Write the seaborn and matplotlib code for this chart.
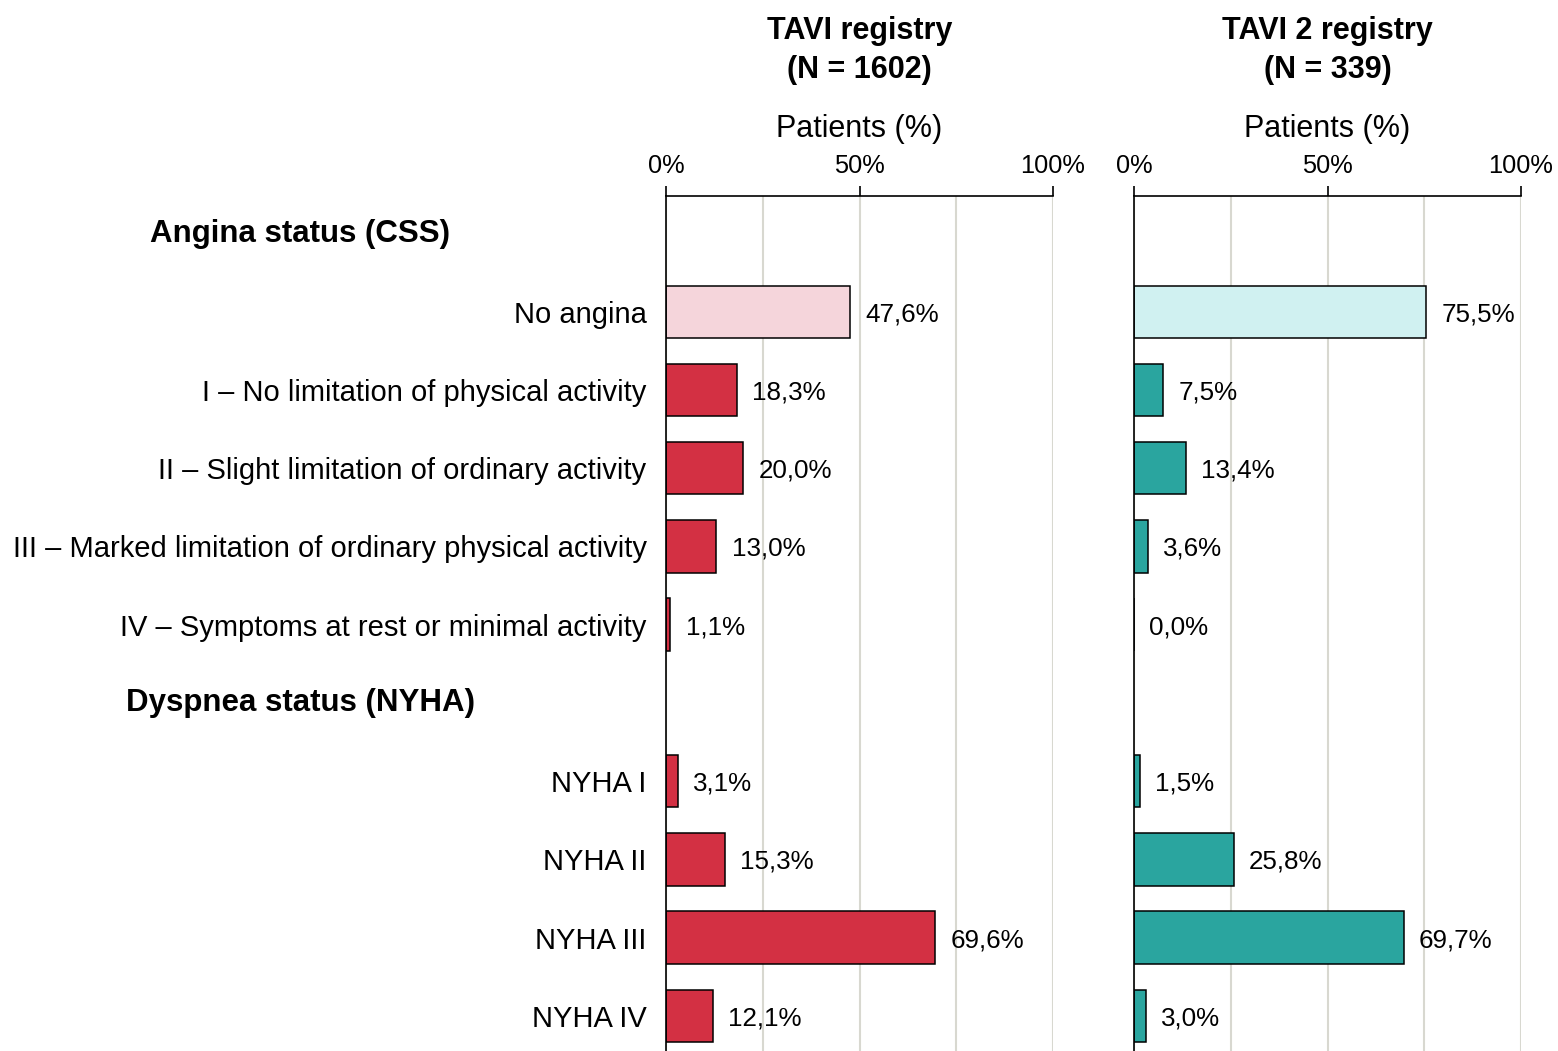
import pandas as pd
import seaborn as sns
import matplotlib.pyplot as plt
import matplotlib.transforms as mtransforms

# rows from top to bottom; the two section headers carry no bar
rows = [
    "Angina status (CSS)",
    "No angina",
    "I – No limitation of physical activity",
    "II – Slight limitation of ordinary activity",
    "III – Marked limitation of ordinary physical activity",
    "IV – Symptoms at rest or minimal activity",
    "Dyspnea status (NYHA)",
    "NYHA I",
    "NYHA II",
    "NYHA III",
    "NYHA IV",
]
headers = ["Angina status (CSS)", "Dyspnea status (NYHA)"]
bar_rows = [r for r in rows if r not in headers]

tavi1 = [47.6, 18.3, 20.0, 13.0, 1.1, 3.1, 15.3, 69.6, 12.1]
tavi2 = [75.5, 7.5, 13.4, 3.6, 0.0, 1.5, 25.8, 69.7, 3.0]
panel_titles = ["TAVI registry\n(N = 1602)", "TAVI 2 registry\n(N = 339)"]

red, pink = "#D33043", "#F5D5DB"
teal, light_teal = "#2AA59F", "#D0F1F1"

sns.set_style("white")
plt.rcParams["font.family"] = ["Liberation Sans", "DejaVu Sans"]
plt.rcParams["text.color"] = "black"
plt.rcParams["axes.labelcolor"] = "black"
plt.rcParams["xtick.color"] = "black"
plt.rcParams["ytick.color"] = "black"

fig = plt.figure(figsize=(15.58, 10.51), dpi=100)
ax1 = fig.add_axes([666 / 1558, 0, 387 / 1558, 1 - 196 / 1051])
ax2 = fig.add_axes([1134 / 1558, 0, 387 / 1558, 1 - 196 / 1051])

for ax, vals, title, dark, light in [
    (ax1, tavi1, panel_titles[0], red, pink),
    (ax2, tavi2, panel_titles[1], teal, light_teal),
]:
    df = pd.DataFrame({"row": bar_rows, "pct": vals})
    df["kind"] = ["none"] + ["sym"] * (len(bar_rows) - 1)
    sns.barplot(
        data=df, x="pct", y="row", hue="kind", order=rows,
        palette={"none": light, "sym": dark}, dodge=False, width=0.67,
        saturation=1, edgecolor="black", linewidth=1.1, legend=False, ax=ax,
    )
    for cont in ax.containers:
        labels = ax.bar_label(
            cont, labels=[f"{v:.1f}%".replace(".", ",") for v in cont.datavalues],
            padding=11, fontsize=18.7,
        )
        for t in labels:
            t.set_va("center_baseline")

    ax.set_xlim(0, 100)
    ax.set_ylim(10.45, -0.48)
    ax.xaxis.tick_top()
    ax.xaxis.set_label_position("top")
    ax.set_xticks([0, 50, 100])
    ax.set_xticklabels(["0%", "50%", "100%"])
    ax.set_xticks([25, 75], minor=True)
    ax.tick_params(axis="x", which="major", direction="out", length=7, width=1.2,
                   pad=6, labelsize=18.3, color="black")
    ax.tick_params(axis="x", which="minor", length=0)
    ax.grid(axis="x", which="both", color="#D8D8D0", linewidth=1.5)
    ax.set_axisbelow(True)
    ax.set_xlabel("Patients (%)", fontsize=22, labelpad=12)
    ax.set_ylabel("")
    ax.set_title(title, fontsize=22, fontweight="bold", pad=26, linespacing=1.4)

    for side in ["right", "bottom"]:
        ax.spines[side].set_visible(False)
    for side in ["left", "top"]:
        ax.spines[side].set_color("black")
        ax.spines[side].set_linewidth(1.2)

ax1.set_yticks(range(len(rows)))
ax1.set_yticklabels(["" if r in headers else r for r in rows], fontsize=21)
ax1.tick_params(axis="y", length=0, pad=14)
ax2.set_yticks([])

# section headers, centred in the label column
trans = mtransforms.blended_transform_factory(fig.transFigure, ax1.transData)
for h in headers:
    ax1.text(300 / 1558, rows.index(h), h, transform=trans, ha="center",
             va="center", fontsize=22.5, fontweight="bold")

fig.savefig("out.png", dpi=100)
